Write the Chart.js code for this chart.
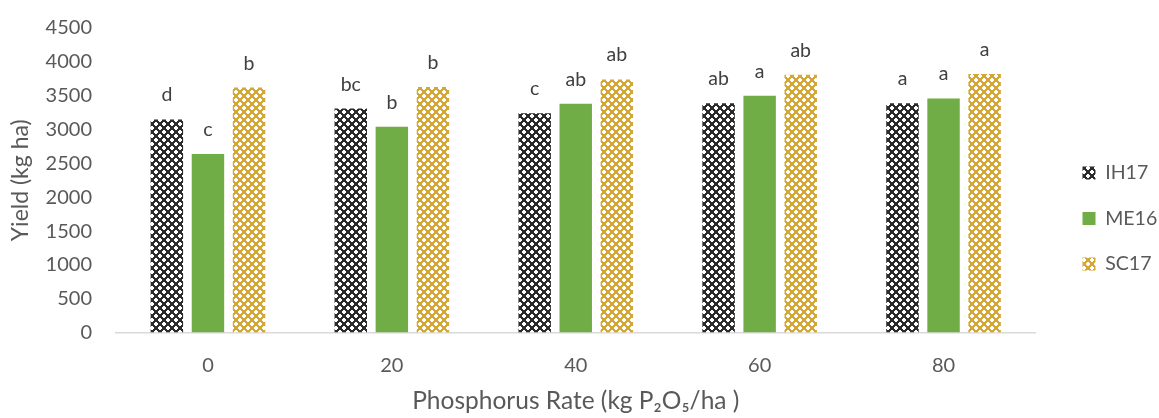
<!DOCTYPE html>
<html><head><meta charset="utf-8">
<script src="https://cdn.jsdelivr.net/npm/chart.js@4.4.0/dist/chart.umd.min.js"></script>
<style>html,body{margin:0;padding:0;background:#fff;} #wrap{width:1159px;height:418px;position:relative;}</style>
</head><body><div id="wrap"><canvas id="c"></canvas></div>
<script>
// ---- data ----
const categories = ['0', '20', '40', '60', '80'];
const seriesNames = ['IH17', 'ME16', 'SC17'];
const ih17 = [3150, 3310, 3240, 3390, 3390];
const me16 = [2640, 3040, 3380, 3500, 3460];
const sc17 = [3620, 3630, 3740, 3810, 3820];
const ih17Letters = ['d', 'bc', 'c', 'ab', 'a'];
const me16Letters = ['c', 'b', 'ab', 'a', 'a'];
const sc17Letters = ['b', 'b', 'ab', 'ab', 'a'];
const yMin = 0, yMax = 4500, yStep = 500;
const xTitle = 'Phosphorus Rate (kg P\u2082O\u2085/ha )';
const yTitle = 'Yield (kg ha)';

// ---- styles ----
const FONT = 'Lato, "Open Sans", "Noto Sans", sans-serif';
const TXT = '#595959';

function makePattern(fg, bg) {
  const t = document.createElement('canvas');
  t.width = 8; t.height = 8;
  const g = t.getContext('2d');
  g.fillStyle = fg; g.fillRect(0, 0, 8, 8);
  g.fillStyle = bg;
  const plus = (cx, cy) => { g.fillRect(cx - 1, cy - 2, 2, 4); g.fillRect(cx - 2, cy - 1, 4, 2); };
  plus(4, 4); plus(0, 0); plus(8, 0); plus(0, 8); plus(8, 8);
  return g.createPattern(t, 'repeat');
}
const ihPattern = makePattern('#2b2b2b', '#ffffff');
const scPattern = makePattern('#d4a633', '#ffffff');

const letterPlugin = {
  id: 'letters',
  afterDatasetsDraw(chart) {
    const ctx = chart.ctx;
    ctx.save();
    ctx.font = '19.5px ' + FONT;
    ctx.fillStyle = '#404040';
    ctx.textAlign = 'center';
    ctx.textBaseline = 'alphabetic';
    chart.data.datasets.forEach((ds, i) => {
      const meta = chart.getDatasetMeta(i);
      meta.data.forEach((bar, j) => {
        ctx.fillText(ds.letters[j], bar.x, bar.y - 18);
      });
    });
    ctx.restore();
  }
};

// legend placement: fixed width, then nudged to the reference position
const LEGEND_W = 123.5, LEGEND_DX = 21, LEGEND_DY = 1.5;
const legendPlace = {
  id: 'legendPlace',
  beforeLayout(chart) {
    const lg = chart.legend;
    if (lg && !lg._fixedFit) {
      const orig = lg.fit.bind(lg);
      lg.fit = function () { orig(); this.width = LEGEND_W; };
      lg._fixedFit = true;
    }
  },
  afterLayout(chart) {
    const lg = chart.legend;
    if (lg) { lg.left += LEGEND_DX; lg.right += LEGEND_DX; lg.top += LEGEND_DY; lg.bottom += LEGEND_DY; }
  }
};

new Chart(document.getElementById('c'), {
  type: 'bar',
  data: {
    labels: categories,
    datasets: [
      { label: seriesNames[0], data: ih17, letters: ih17Letters, backgroundColor: ihPattern },
      { label: seriesNames[1], data: me16, letters: me16Letters, backgroundColor: '#70ad47' },
      { label: seriesNames[2], data: sc17, letters: sc17Letters, backgroundColor: scPattern }
    ]
  },
  options: {
    responsive: true,
    maintainAspectRatio: false,
    animation: false,
    categoryPercentage: 0.67,
    barPercentage: 0.79,
    layout: { padding: { top: 18, right: 0, bottom: 2, left: 0 } },
    plugins: {
      tooltip: { enabled: false },
      legend: {
        position: 'right',
        labels: {
          boxWidth: 13, boxHeight: 13, padding: 26,
          color: TXT, font: { family: FONT, size: 19.5 }
        }
      }
    },
    scales: {
      x: {
        grid: { display: false },
        border: { display: true, color: '#d9d9d9', width: 1.5 },
        ticks: { color: TXT, font: { family: FONT, size: 20 }, padding: 13 },
        title: { display: true, text: xTitle, color: TXT, font: { family: FONT, size: 24.5 }, padding: { top: -4, bottom: 0 } }
      },
      y: {
        min: yMin, max: yMax,
        grid: { display: false },
        border: { display: false },
        ticks: { stepSize: yStep, color: TXT, font: { family: FONT, size: 20 }, padding: 16, callback: (v) => String(v) },
        title: { display: true, text: yTitle, color: TXT, font: { family: FONT, size: 23 }, padding: { top: 7, bottom: 0 } },
        afterFit(scale) { scale.width = 116; }
      }
    }
  },
  plugins: [letterPlugin, legendPlace]
});
</script></body></html>
